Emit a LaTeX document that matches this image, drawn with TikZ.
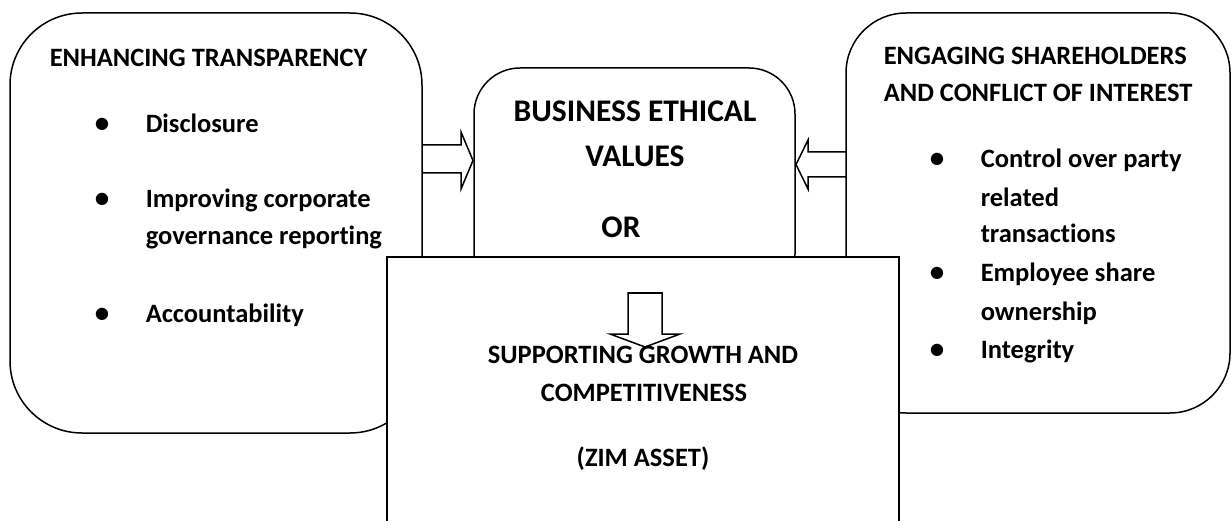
\documentclass[tikz,border=0pt]{standalone}
\usepackage{fontspec}
\setmainfont{Carlito}[RawFeature={-liga,-clig}]
\begin{document}
\begin{tikzpicture}[x=1pt, y=-1pt, line width=1.5pt,
  panel/.style={draw, fill=white, rounded corners=#1, inner sep=0pt},
  plain/.style={draw, fill=white, inner sep=0pt},
  blockarrow/.style={draw, line join=miter},
  txt/.style={font=\fontsize{26.5}{32}\bfseries\selectfont, inner sep=0pt, anchor=base west},
  ctxt/.style={txt, anchor=base},
  bigtxt/.style={font=\fontsize{31.5}{38}\bfseries\selectfont, inner sep=0pt, anchor=base},
  dot/.style={font=\fontsize{29}{32}\bfseries\selectfont, inner sep=0pt, anchor=base}]
\useasboundingbox (0,0) rectangle (1231,521);
\clip (0,0) rectangle (1231,521);

% side panels and central panel
\node[panel=72pt, minimum width=412pt, minimum height=420pt] (lbox) at (216,223) {};
\node[panel=60pt, minimum width=384pt, minimum height=400pt] (rbox) at (1038,213) {};
\node[panel=46pt, minimum width=321pt, minimum height=232pt] (mbox) at (634.5,184) {};

% block arrows pointing into the central panel
\draw[blockarrow] (422,145) -- (461,145) -- (461,132) -- (473,160.5) -- (461,189) -- (461,173) -- (422,173);
\draw[blockarrow] (846,152) -- (808,152) -- (808,140) -- (796,164.5) -- (808,189) -- (808,177) -- (846,177);

% lower panel laid over the others
\node[plain, minimum width=512pt, minimum height=283pt] (bbox) at (643,398.5) {};

% downward block arrow
\draw[blockarrow] (628,334) -- (628,293) -- (662,293) -- (662,334) -- (680,334) -- (645,347) -- (610,334) -- cycle;

% left panel text
\node[txt] (lt) at (49,67) {ENHANCING TRANSPARENCY};
\node[dot] (lb1) at (102,133) {•};
\node[txt] (l1) at (145,133) {Disclosure};
\node[dot] (lb2) at (102,208) {•};
\node[txt] (l2a) at (145,208) {Improving corporate};
\node[txt] (l2b) at (145,245) {governance reporting};
\node[dot] (lb3) at (102,322) {•};
\node[txt] (l3) at (145,322) {Accountability};

% right panel text
\node[txt] (rt1) at (883,65) {ENGAGING SHAREHOLDERS};
\node[txt] (rt2) at (883,102) {AND CONFLICT OF INTEREST};
\node[dot] (rb1) at (937,168) {•};
\node[txt] (r1a) at (980,168) {Control over party};
\node[txt] (r1b) at (980,207) {related};
\node[txt] (r1c) at (980,243) {transactions};
\node[dot] (rb2) at (937,282) {•};
\node[txt] (r2a) at (980,282) {Employee share};
\node[txt] (r2b) at (980,320) {ownership};
\node[dot] (rb3) at (937,358) {•};
\node[txt] (r3) at (980,358) {Integrity};

% central panel text
\node[bigtxt] (m1) at (635,122) {BUSINESS ETHICAL};
\node[bigtxt] (m2) at (635,167) {VALUES};
\node[bigtxt] (m3) at (621,238) {OR};

% lower panel text
\node[ctxt] (b1) at (643,363) {SUPPORTING GROWTH AND};
\node[ctxt] (b2) at (644,401) {COMPETITIVENESS};
\node[ctxt] (b3) at (643,466) {(ZIM ASSET)};
\end{tikzpicture}
\end{document}
